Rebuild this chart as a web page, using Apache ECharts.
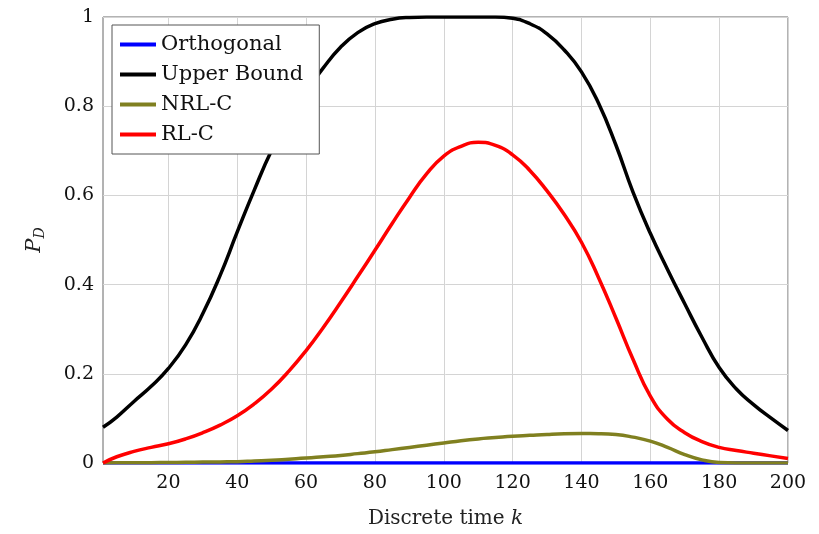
<!DOCTYPE html>
<html>
<head>
<meta charset="utf-8">
<script src="https://cdn.jsdelivr.net/npm/echarts@6/dist/echarts.min.js"></script>
<style>
  html, body { margin: 0; padding: 0; background: #fff; }
  #main { width: 819px; height: 534px; }
</style>
</head>
<body>
<div id="main"></div>
<script>
// discrete time steps
let kSteps = [1, 5, 10, 15, 20, 25, 30, 35, 40, 45, 50, 55, 60, 65, 70, 75, 80, 85, 90, 95, 100,
  105, 110, 115, 120, 125, 130, 135, 140, 145, 150, 155, 160, 165, 170, 175, 180, 185, 190, 195, 200];

let orthogonal = [0, 0, 0, 0, 0, 0, 0, 0, 0, 0, 0, 0, 0, 0, 0, 0, 0, 0, 0, 0, 0,
  0, 0, 0, 0, 0, 0, 0, 0, 0, 0, 0, 0, 0, 0, 0, 0, 0, 0, 0, 0];

let upperBound = [0.080, 0.103, 0.138, 0.172, 0.212, 0.265, 0.335, 0.420, 0.518, 0.613, 0.701,
  0.773, 0.833, 0.886, 0.932, 0.965, 0.985, 0.995, 0.999, 1.0, 1.0,
  1.0, 1.0, 1.0, 0.997, 0.985, 0.962, 0.926, 0.877, 0.806, 0.713,
  0.607, 0.515, 0.434, 0.357, 0.282, 0.214, 0.166, 0.131, 0.101, 0.073];

let nrlC = [0, 0.0003, 0.0005, 0.0008, 0.001, 0.0015, 0.002, 0.0025, 0.003, 0.0045, 0.006,
  0.0085, 0.011, 0.014, 0.017, 0.021, 0.025, 0.030, 0.035, 0.040, 0.045,
  0.050, 0.054, 0.057, 0.060, 0.062, 0.064, 0.0655, 0.066, 0.0658, 0.064,
  0.058, 0.049, 0.035, 0.019, 0.007, 0.001, 0, 0, 0, 0];

let rlC = [0, 0.014, 0.026, 0.035, 0.043, 0.054, 0.068, 0.085, 0.106, 0.133, 0.166,
  0.206, 0.252, 0.304, 0.360, 0.418, 0.477, 0.537, 0.595, 0.648, 0.688,
  0.710, 0.719, 0.712, 0.691, 0.656, 0.610, 0.557, 0.495, 0.415, 0.325,
  0.232, 0.150, 0.098, 0.068, 0.048, 0.035, 0.028, 0.022, 0.016, 0.010];

let xTicks = [20, 40, 60, 80, 100, 120, 140, 160, 180, 200];

let seriesNames = ['Orthogonal', 'Upper Bound', 'NRL-C', 'RL-C'];
let seriesColors = ['#0000ff', '#000000', '#808020', '#ff0000'];
let seriesValues = [orthogonal, upperBound, nrlC, rlC];

let font = 'DejaVu Serif';

let toPairs = function(vals){
  return kSteps.map((k, i) => [k, vals[i]]);
};

let chart = echarts.init(document.getElementById('main'));
let option = {
  animation: false,
  backgroundColor: '#fff',
  grid: {
    left: 103, right: 31, top: 17, bottom: 67,
    show: true, borderColor: '#666', borderWidth: 1
  },
  legend: {
    orient: 'vertical',
    left: 112, top: 25,
    data: seriesNames,
    icon: 'rect',
    itemWidth: 36, itemHeight: 4,
    itemGap: 9,
    padding: [9, 16, 9, 8],
    backgroundColor: '#fff',
    borderColor: '#555', borderWidth: 1,
    textStyle: { fontFamily: font, fontSize: 21, color: '#111' }
  },
  xAxis: {
    type: 'value',
    min: 1, max: 200,
    name: 'Discrete time {i|k}',
    nameLocation: 'middle',
    nameGap: 46,
    nameTextStyle: {
      fontFamily: font, fontSize: 20, color: '#222',
      rich: { i: { fontFamily: font, fontStyle: 'italic', fontSize: 20, color: '#222' } }
    },
    axisLine: { show: false },
    axisTick: { show: false, customValues: xTicks },
    axisLabel: { customValues: xTicks, fontFamily: font, fontSize: 19, color: '#111', margin: 11 },
    splitLine: { show: true, lineStyle: { color: '#d4d4d4', width: 1 } }
  },
  yAxis: {
    type: 'value',
    min: 0, max: 1, interval: 0.2,
    name: '{i|P}{s|D}',
    nameLocation: 'middle',
    nameGap: 56,
    nameRotate: 90,
    nameTextStyle: {
      rich: {
        i: { fontFamily: font, fontStyle: 'italic', fontSize: 21, color: '#222' },
        s: { fontFamily: font, fontStyle: 'italic', fontSize: 14, color: '#222', verticalAlign: 'bottom', padding: [10, 0, 0, 0] }
      }
    },
    axisLine: { show: false },
    axisTick: { show: false },
    axisLabel: { fontFamily: font, fontSize: 19, color: '#111', margin: 9 },
    splitLine: { show: true, lineStyle: { color: '#d4d4d4', width: 1 } }
  },
  series: seriesNames.map((name, i) => ({
    name: name,
    type: 'line',
    data: toPairs(seriesValues[i]),
    smooth: 0.5,
    showSymbol: false,
    symbol: 'none',
    color: seriesColors[i],
    lineStyle: { color: seriesColors[i], width: 3.5 }
  }))
};
chart.setOption(option);
</script>
</body>
</html>
